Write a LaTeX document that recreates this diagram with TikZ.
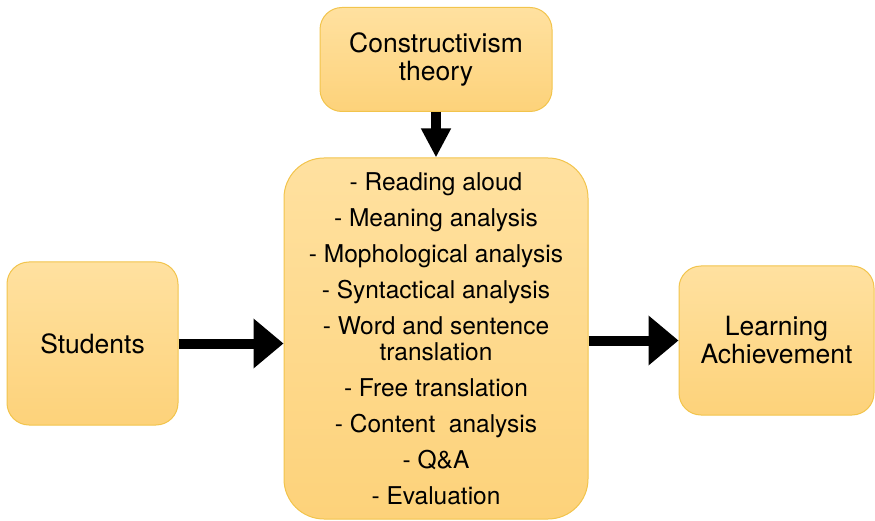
\documentclass[tikz,border=0pt]{standalone}
\usepackage{fontspec}
\setmainfont{TeX Gyre Heros}
\usetikzlibrary{arrows.meta}
\definecolor{boxtop}{RGB}{255,225,160}
\definecolor{boxbot}{RGB}{253,210,122}
\definecolor{boxline}{RGB}{242,196,76}
\begin{document}
\begin{tikzpicture}[x=1pt,y=-1pt,
    box/.style={draw=boxline, line width=1pt, top color=boxtop, bottom color=boxbot,
      rounded corners=22pt, align=center, inner sep=0pt,
      font=\fontsize{26.5}{28}\selectfont},
    flow/.style={line width=10pt, -{Triangle[length=30pt,width=48pt]}}
  ]
  \useasboundingbox (0,0) rectangle (875,521);

  \node[box, minimum width=232pt, minimum height=104pt] (theory) at (436,59.5) {Constructivism\\theory};
  \node[box, minimum width=171pt, minimum height=163pt] (students) at (92.5,343.5) {Students};
  \node[box, minimum width=195pt, minimum height=149pt] (achieve) at (776.5,340.5) {Learning\\Achievement};
  \node[box, minimum width=304pt, minimum height=361pt, rounded corners=40pt,
        font=\fontsize{24.5}{26}\selectfont] (method) at (436,338.5)
    {- Reading aloud\\[10pt]
     - Meaning analysis\\[10pt]
     - Mophological analysis\\[10pt]
     - Syntactical analysis\\[10pt]
     - Word and sentence\\
     translation\\[10pt]
     - Free translation\\[10pt]
     - Content\ \ analysis\\[10pt]
     - Q\&A\\[10pt]
     - Evaluation};

  \draw[flow, -{Triangle[length=29pt,width=28pt]}] (theory) -- (method); % theory feeds the method
  \draw[flow] (students.east) -- (students.east -| method.west);
  \draw[flow] (achieve.west -| method.east) -- (achieve.west);

\end{tikzpicture}
\end{document}
